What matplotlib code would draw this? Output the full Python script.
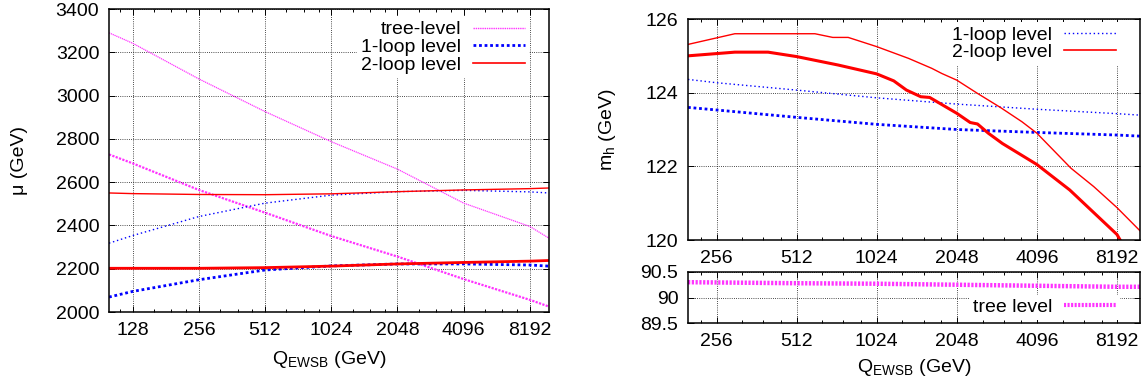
import matplotlib
matplotlib.use("Agg")
import matplotlib.pyplot as plt
import numpy as np
from matplotlib.lines import Line2D
from matplotlib.ticker import FixedLocator, NullFormatter

plt.rcParams['font.family'] = ['Liberation Sans', 'DejaVu Sans']
plt.rcParams['font.size'] = 14

# ---- left panel: mu vs Q_EWSB ----
q_mu = [100, 128, 256, 512, 1024, 2048, 4096, 8192, 10000]
mu_tree_a = [3290, 3242, 3077, 2926, 2787, 2660, 2503, 2395, 2341]
mu_tree_b = [2728, 2687, 2564, 2459, 2351, 2256, 2152, 2056, 2025]
mu_1loop_a = [2318, 2353, 2441, 2503, 2540, 2556, 2562, 2555, 2550]
mu_1loop_b = [2069, 2095, 2149, 2194, 2213, 2222, 2222, 2217, 2212]
mu_2loop_a = [2550, 2547, 2543, 2542, 2546, 2556, 2564, 2570, 2573]
mu_2loop_b = [2202, 2202, 2202, 2205, 2212, 2222, 2229, 2235, 2238]

# ---- right panel: m_h vs Q_EWSB ----
q_1loop = [200, 256, 512, 1024, 2048, 4096, 8192, 10000]
mh_1loop_a = [124.36, 124.27, 124.07, 123.86, 123.69, 123.55, 123.43, 123.39]
mh_1loop_b = [123.60, 123.53, 123.33, 123.14, 123.00, 122.92, 122.85, 122.82]

q_2loop_a = [200, 300, 600, 700, 800, 1024, 1350, 1650, 1800, 2048, 2450,
             3000, 3600, 4096, 5500, 6700, 8192, 10000]
mh_2loop_a = [125.31, 125.60, 125.60, 125.50, 125.50, 125.25, 124.93, 124.66,
              124.52, 124.34, 123.98, 123.59, 123.21, 122.90, 121.95, 121.45,
              120.88, 120.25]
q_2loop_b = [200, 300, 400, 512, 734, 1024, 1187, 1325, 1500, 1620, 2048,
             2300, 2450, 2690, 3040, 4096, 5440, 8192, 8900]
mh_2loop_b = [125.00, 125.10, 125.10, 124.98, 124.75, 124.51, 124.32, 124.07,
              123.89, 123.87, 123.44, 123.19, 123.15, 122.90, 122.62, 122.05,
              121.36, 120.15, 119.70]

q_tree = [200, 512, 1024, 2048, 4096, 8192, 10000]
mh_tree = [90.30, 90.28, 90.27, 90.25, 90.23, 90.21, 90.21]

xticks = [128, 256, 512, 1024, 2048, 4096, 8192]

MAG = '#ff33ff'
BLUE = '#0000ff'
RED = '#ff0000'
W, H = 1146, 389

fig = plt.figure(figsize=(W / 100, H / 100), dpi=100)


def frac(l, t, r, b):
    return [l / W, 1 - b / H, (r - l) / W, (b - t) / H]


def style_axes(ax, xlim, yticks, ylim):
    ax.set_xscale('log', base=2)
    ax.set_xticks(xticks)
    ax.set_xticklabels([str(t) for t in xticks])
    minors = [k * f for k in [32, 64, 128, 256, 512, 1024, 2048, 4096, 8192]
              for f in (1.25, 1.5, 1.75)]
    ax.xaxis.set_minor_locator(FixedLocator(minors))
    ax.xaxis.set_minor_formatter(NullFormatter())
    ax.set_yticks(yticks)
    ax.set_xlim(*xlim)
    ax.set_ylim(*ylim)
    ax.tick_params(which='major', direction='in', top=True, right=True,
                   length=4.5, width=0.7, pad=7)
    ax.tick_params(which='minor', direction='in', top=True, right=True,
                   length=2.3, width=0.7)
    ax.tick_params(axis='y', which='minor', left=False, right=False)
    ax.grid(True, which='major', color='#111111', linestyle=(0, (1, 1.6)),
            linewidth=0.6)
    ax.set_axisbelow(True)
    for s in ax.spines.values():
        s.set_linewidth(1.1)


leg_kw = dict(markerfirst=False, frameon=True, facecolor='white',
              edgecolor='none', framealpha=1, fancybox=False,
              handlelength=2.7, handletextpad=0.6, labelspacing=0.0,
              borderpad=0.2, borderaxespad=0)

# left panel
ax1 = fig.add_axes(frac(109, 9, 549, 312))
ax1.plot(q_mu, mu_tree_a, color=MAG, lw=0.9, ls=(0, (1, 0.6)))
ax1.plot(q_mu, mu_tree_b, color=MAG, lw=1.6, ls=(0, (1, 0.6)))
ax1.plot(q_mu, mu_1loop_a, color=BLUE, lw=1.0, ls=(0, (1, 2)))
ax1.plot(q_mu, mu_1loop_b, color=BLUE, lw=2.0, ls=(0, (1, 1)))
ax1.plot(q_mu, mu_2loop_a, color=RED, lw=1.0)
ax1.plot(q_mu, mu_2loop_b, color=RED, lw=2.0)
style_axes(ax1, (100, 10000), np.arange(2000, 3401, 200), (2000, 3400))
h1 = [Line2D([], [], color=MAG, lw=1.0, ls=(0, (1, 0.6))),
      Line2D([], [], color=BLUE, lw=2.0, ls=(0, (1, 1))),
      Line2D([], [], color=RED, lw=1.2)]
ax1.legend(h1, ['tree-level', '1-loop level', '2-loop level'],
           loc='upper right', bbox_to_anchor=(1 - 20 / 440, 1 - 8 / 303),
           **leg_kw)
fig.text(329 / W, 1 - 360 / H, r'Q$_\mathregular{EWSB}$ (GeV)',
         ha='center', va='center')
fig.text(20 / W, 1 - 160 / H, 'μ (GeV)', rotation=90,
         ha='center', va='center')

# right top panel
ax2 = fig.add_axes(frac(688, 19, 1140, 240))
ax2.plot(q_1loop, mh_1loop_a, color=BLUE, lw=1.0, ls=(0, (1, 2)))
ax2.plot(q_1loop, mh_1loop_b, color=BLUE, lw=2.0, ls=(0, (1, 1)))
ax2.plot(q_2loop_a, mh_2loop_a, color=RED, lw=1.0)
ax2.plot(q_2loop_b, mh_2loop_b, color=RED, lw=2.2)
style_axes(ax2, (200, 10000), [120, 122, 124, 126], (120, 126))
h2 = [Line2D([], [], color=BLUE, lw=1.0, ls=(0, (1, 2))),
      Line2D([], [], color=RED, lw=1.2)]
ax2.legend(h2, ['1-loop level', '2-loop level'],
           loc='upper right', bbox_to_anchor=(1 - 20 / 452, 1 - 3 / 221),
           **leg_kw)
fig.text(608 / W, 1 - 130 / H, r'm$_\mathregular{h}$ (GeV)', rotation=90,
         ha='center', va='center')

# right bottom panel
ax3 = fig.add_axes(frac(688, 272, 1140, 323))
ax3.plot(q_tree, mh_tree, color=MAG, lw=3.2, ls=(0, (0.5, 0.35)))
style_axes(ax3, (200, 10000), [89.5, 90, 90.5], (89.5, 90.5))
ax3.set_yticklabels(['89.5', '90', '90.5'])
h3 = [Line2D([], [], color=MAG, lw=3.0, ls=(0, (0.5, 0.35)))]
ax3.legend(h3, ['tree level'], loc='lower right',
           bbox_to_anchor=(1 - 20 / 452, 3 / 51), **leg_kw)
fig.text(914 / W, 1 - 368 / H, r'Q$_\mathregular{EWSB}$ (GeV)',
         ha='center', va='center')

fig.savefig('out.png', dpi=100)
